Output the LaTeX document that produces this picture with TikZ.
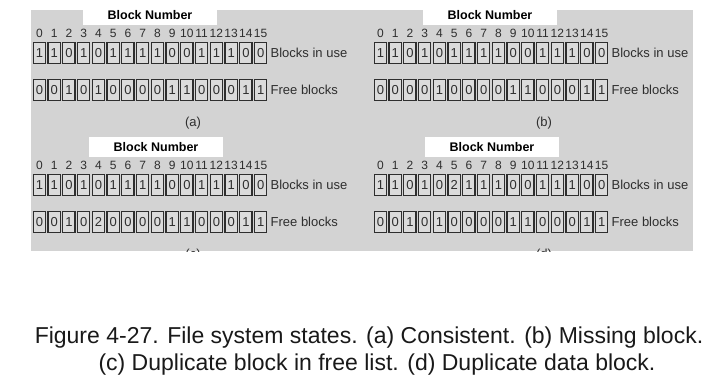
\documentclass[tikz,border=0pt]{standalone}
\usepackage{fontspec}
\setmainfont{Liberation Sans}
\usetikzlibrary{positioning}
\definecolor{panelgray}{HTML}{D3D3D3}
\definecolor{cellgray}{HTML}{DBDBDB}
\definecolor{inkgray}{HTML}{2E2E2E}
\tikzset{
  cell/.style={draw=inkgray,line width=1.3pt,fill=cellgray,minimum width=12.4pt,
    minimum height=20.7pt,inner sep=0pt,text=inkgray,font=\fontsize{13}{13}\selectfont},
  headdigit/.style={inner sep=0pt,text=inkgray,font=\fontsize{12}{12}\selectfont},
  rowlabel/.style={inner sep=1pt,text=inkgray,font=\fontsize{13}{14}\selectfont},
  titlebox/.style={fill=white,minimum width=134pt,minimum height=20pt,inner sep=0pt,
    font=\fontsize{12.5}{13}\selectfont\bfseries},
  captionline/.style={anchor=base,inner sep=0pt,text=black!90,font=\fontsize{23}{27}\selectfont}
}
% #1 prefix, #2 left x, #3 top y, #4 use bits, #5 free bits, #6 title x, #7 letter x, #8 letter
\newcommand{\blockpanel}[8]{%
  \node[titlebox] (#1title) at (#6,#3-27) {Block Number};
  \foreach \i in {0,...,15}
    \node[headdigit] (#1num\i) at ({#2+14.75*\i+7.375},{#3-8.5}) {\i};
  \foreach \v [count=\i from 0] in {#4}
    \node[cell] (#1use\i) at ({#2+14.75*\i+7.375},{#3+11}) {\v};
  \foreach \v [count=\i from 0] in {#5}
    \node[cell] (#1free\i) at ({#2+14.75*\i+7.375},{#3+48}) {\v};
  \node[rowlabel,right=2pt of #1use15] (#1uselabel) {Blocks in use};
  \node[rowlabel,right=2pt of #1free15] (#1freelabel) {Free blocks};
  \node[rowlabel] (#1letter) at (#7,#3+81) {#8};
}
\begin{document}
\begin{tikzpicture}[x=1pt,y=-1pt]
  \useasboundingbox (0,0) rectangle (709,385);
  \fill[panelgray] (31,10) rectangle (693,251);
  \begin{scope}
    \clip (0,0) rectangle (709,251);
    \blockpanel{a}{32}{42}{1,1,0,1,0,1,1,1,1,0,0,1,1,1,0,0}{0,0,1,0,1,0,0,0,0,1,1,0,0,0,1,1}{150}{193}{(a)}
    \blockpanel{b}{373}{42}{1,1,0,1,0,1,1,1,1,0,0,1,1,1,0,0}{0,0,0,0,1,0,0,0,0,1,1,0,0,0,1,1}{490}{544}{(b)}
    \blockpanel{c}{32}{174}{1,1,0,1,0,1,1,1,1,0,0,1,1,1,0,0}{0,0,1,0,2,0,0,0,0,1,1,0,0,0,1,1}{156}{193}{(c)}
    \blockpanel{d}{373}{174}{1,1,0,1,0,2,1,1,1,0,0,1,1,1,0,0}{0,0,1,0,1,0,0,0,0,1,1,0,0,0,1,1}{492}{544}{(d)}
  \end{scope}
  \node[captionline] (caption1) at (369,343) {Figure 4-27. File system states. (a) Consistent. (b) Missing block.};
  \node[captionline] (caption2) at (377,370) {(c) Duplicate block in free list. (d) Duplicate data block.};
\end{tikzpicture}
\end{document}
